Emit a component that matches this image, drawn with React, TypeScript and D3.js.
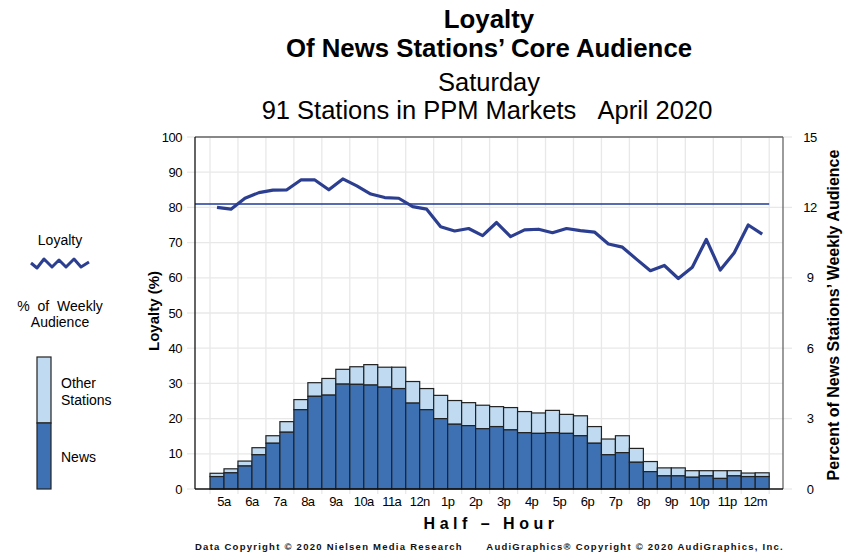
import React from "react";
import * as d3 from "d3";

const hourLabels = ["5a","6a","7a","8a","9a","10a","11a","12n","1p","2p","3p","4p","5p","6p","7p","8p","9p","10p","11p","12m"];

// Loyalty (%) per half-hour, 5:00a through 12:30m
const loyalty = [80.0,79.5,82.6,84.2,84.9,85.0,87.8,87.8,85.0,88.1,86.1,83.8,82.8,82.6,80.2,79.5,74.5,73.3,74.0,72.0,
  75.7,71.7,73.6,73.8,72.8,74.0,73.4,73.0,69.6,68.7,65.3,62.0,63.5,59.8,63.0,70.9,62.2,67.1,75.0,72.4];
const loyaltyAverage = 81;

// Percent of News Stations' weekly audience listening to News stations
const news = [0.53,0.69,0.98,1.46,1.95,2.42,3.38,3.95,4.0,4.47,4.46,4.43,4.34,4.28,3.66,3.38,3.0,2.76,2.7,2.57,
  2.66,2.52,2.4,2.37,2.4,2.37,2.27,1.95,1.46,1.55,1.14,0.74,0.56,0.56,0.5,0.56,0.45,0.56,0.53,0.53];
// ... and listening to other stations
const other = [0.14,0.17,0.21,0.30,0.32,0.45,0.43,0.58,0.71,0.63,0.75,0.87,0.85,0.91,0.92,0.90,0.99,1.01,0.98,1.00,
  0.85,0.95,0.90,0.87,0.95,0.81,0.85,0.71,0.67,0.72,0.59,0.43,0.34,0.34,0.28,0.22,0.33,0.22,0.15,0.16];

const leftTicks = [0,10,20,30,40,50,60,70,80,90,100];
const rightTicks = [0,3,6,9,12,15];

const FONT = "'Liberation Sans', Arial, sans-serif";
const NEWS_COLOR = "#3d71b3";
const OTHER_COLOR = "#c0dbf1";
const LINE_COLOR = "#2c3e8f";

export default function App() {
  const W = 849, H = 554;
  const plotL = 195, plotR = 783, plotT = 137, plotB = 489;
  const idx = d3.range(loyalty.length);
  const x = d3.scaleBand<number>().domain(idx).range([210, 769.2]).padding(0);
  const yL = d3.scaleLinear().domain([0, 100]).range([plotB, plotT]);
  const yR = d3.scaleLinear().domain([0, 15]).range([plotB, plotT]);
  const bw = x.bandwidth();
  const line = d3.line<number>().x((_, i) => x(i)! + bw / 2).y(d => yL(d));
  const gridX = d3.range(0, loyalty.length + 1, 2).map(i => (i < loyalty.length ? x(i)! : x(loyalty.length - 1)! + bw));

  return (
    <svg width={W} height={H} style={{ display: "block", position: "absolute", left: 0, top: 0 }} fontFamily={FONT}>
      <rect width={W} height={H} fill="#fff" />
      {/* titles */}
      <g textAnchor="middle" fill="#000">
        <text x={489} y={28} fontSize={25.8} fontWeight="bold">Loyalty</text>
        <text x={489} y={57} fontSize={25.8} fontWeight="bold">Of News Stations’ Core Audience</text>
        <text x={489} y={91} fontSize={25.5}>Saturday</text>
        <text x={487} y={119} fontSize={25.5} style={{ whiteSpace: "pre" }}>{"91 Stations in PPM Markets\u00a0\u00a0\u00a0April 2020"}</text>
      </g>

      {/* gridlines */}
      <g stroke="#e8e8e8" strokeWidth={1.3}>
        {leftTicks.slice(1).map(t => (
          <line key={"h" + t} x1={plotL} x2={plotR} y1={yL(t)} y2={yL(t)} />
        ))}
        {gridX.map((gx, i) => (
          <line key={"v" + i} x1={gx} x2={gx} y1={plotT} y2={plotB + 5} />
        ))}
        {leftTicks.map(t => (
          <line key={"lt" + t} x1={plotL - 8} x2={plotL} y1={yL(t)} y2={yL(t)} />
        ))}
        {rightTicks.map(t => (
          <line key={"rt" + t} x1={plotR} x2={plotR + 9} y1={yR(t)} y2={yR(t)} />
        ))}
      </g>

      {/* bars */}
      <g stroke="#222" strokeWidth={1.2}>
        {idx.map(i => (
          <g key={i}>
            <rect x={x(i)} y={yR(news[i] + other[i])} width={bw} height={yR(news[i]) - yR(news[i] + other[i])} fill={OTHER_COLOR} />
            <rect x={x(i)} y={yR(news[i])} width={bw} height={plotB - yR(news[i])} fill={NEWS_COLOR} />
          </g>
        ))}
      </g>

      {/* average line */}
      <line x1={plotL} x2={769.2} y1={yL(loyaltyAverage)} y2={yL(loyaltyAverage)} stroke="#1f3a9a" strokeWidth={1.5} />
      {/* loyalty line */}
      <path d={line(loyalty) || ""} fill="none" stroke={LINE_COLOR} strokeWidth={3.2} strokeLinejoin="round" />

      {/* frame */}
      <line x1={plotL} x2={plotR} y1={plotT} y2={plotT} stroke="#666" strokeWidth={1.3} />
      <line x1={plotR} x2={plotR} y1={plotT} y2={plotB} stroke="#666" strokeWidth={1.3} />
      <line x1={plotL} x2={plotL} y1={plotT} y2={plotB} stroke="#111" strokeWidth={1.3} />
      <line x1={plotL} x2={plotR} y1={plotB} y2={plotB} stroke="#111" strokeWidth={1.3} />

      {/* left ticks */}
      <g fontSize={13} textAnchor="end" fill="#000" letterSpacing={-0.5}>
        {leftTicks.map(t => (
          <text key={t} x={182} y={yL(t) + 4.5}>{t}</text>
        ))}
      </g>
      {/* right ticks */}
      <g fontSize={13} textAnchor="middle" fill="#000" letterSpacing={-0.5}>
        {rightTicks.map(t => (
          <text key={t} x={810} y={yR(t) + 4.5}>{t}</text>
        ))}
      </g>
      {/* x labels */}
      <g fontSize={13} textAnchor="middle" fill="#000" letterSpacing={-0.6}>
        {hourLabels.map((l, k) => (
          <text key={l} x={x(2 * k + 1)!} y={506}>{l}</text>
        ))}
      </g>

      {/* axis titles */}
      <text transform="translate(159,311) rotate(-90)" textAnchor="middle" fontSize={15} fontWeight="bold">Loyalty (%)</text>
      <text transform="translate(839,315) rotate(-90)" textAnchor="middle" fontSize={16} fontWeight="bold">Percent of News Stations’ Weekly Audience</text>
      <text x={491} y={529} textAnchor="middle" fontSize={16} fontWeight="bold" letterSpacing={4.5}>Half – Hour</text>

      {/* footer */}
      <text x={195} y={550} fontSize={9.5} fontWeight="bold" letterSpacing={1.25} fill="#111">
        Data Copyright © 2020 Nielsen Media Research{"\u00a0\u00a0\u00a0\u00a0\u00a0\u00a0"}AudiGraphics® Copyright © 2020 AudiGraphics, Inc.
      </text>

      {/* legend */}
      <text x={60} y={245} textAnchor="middle" fontSize={14}>Loyalty</text>
      <path d="M31,263 L37,268 L44,259 L52,267 L59,260 L66,267 L74,259 L81,267 L89,262" fill="none" stroke={LINE_COLOR} strokeWidth={3} strokeLinejoin="round" />
      <text x={60} y={311} textAnchor="middle" fontSize={14} wordSpacing={4}>% of Weekly</text>
      <text x={60} y={327} textAnchor="middle" fontSize={14}>Audience</text>
      <rect x={37} y={357} width={14} height={66} fill={OTHER_COLOR} stroke="#222" strokeWidth={1.2} />
      <rect x={37} y={423} width={14} height={66} fill={NEWS_COLOR} stroke="#222" strokeWidth={1.2} />
      <text x={61} y={388} fontSize={14}>Other</text>
      <text x={61} y={405} fontSize={14}>Stations</text>
      <text x={61} y={462} fontSize={14}>News</text>
    </svg>
  );
}
